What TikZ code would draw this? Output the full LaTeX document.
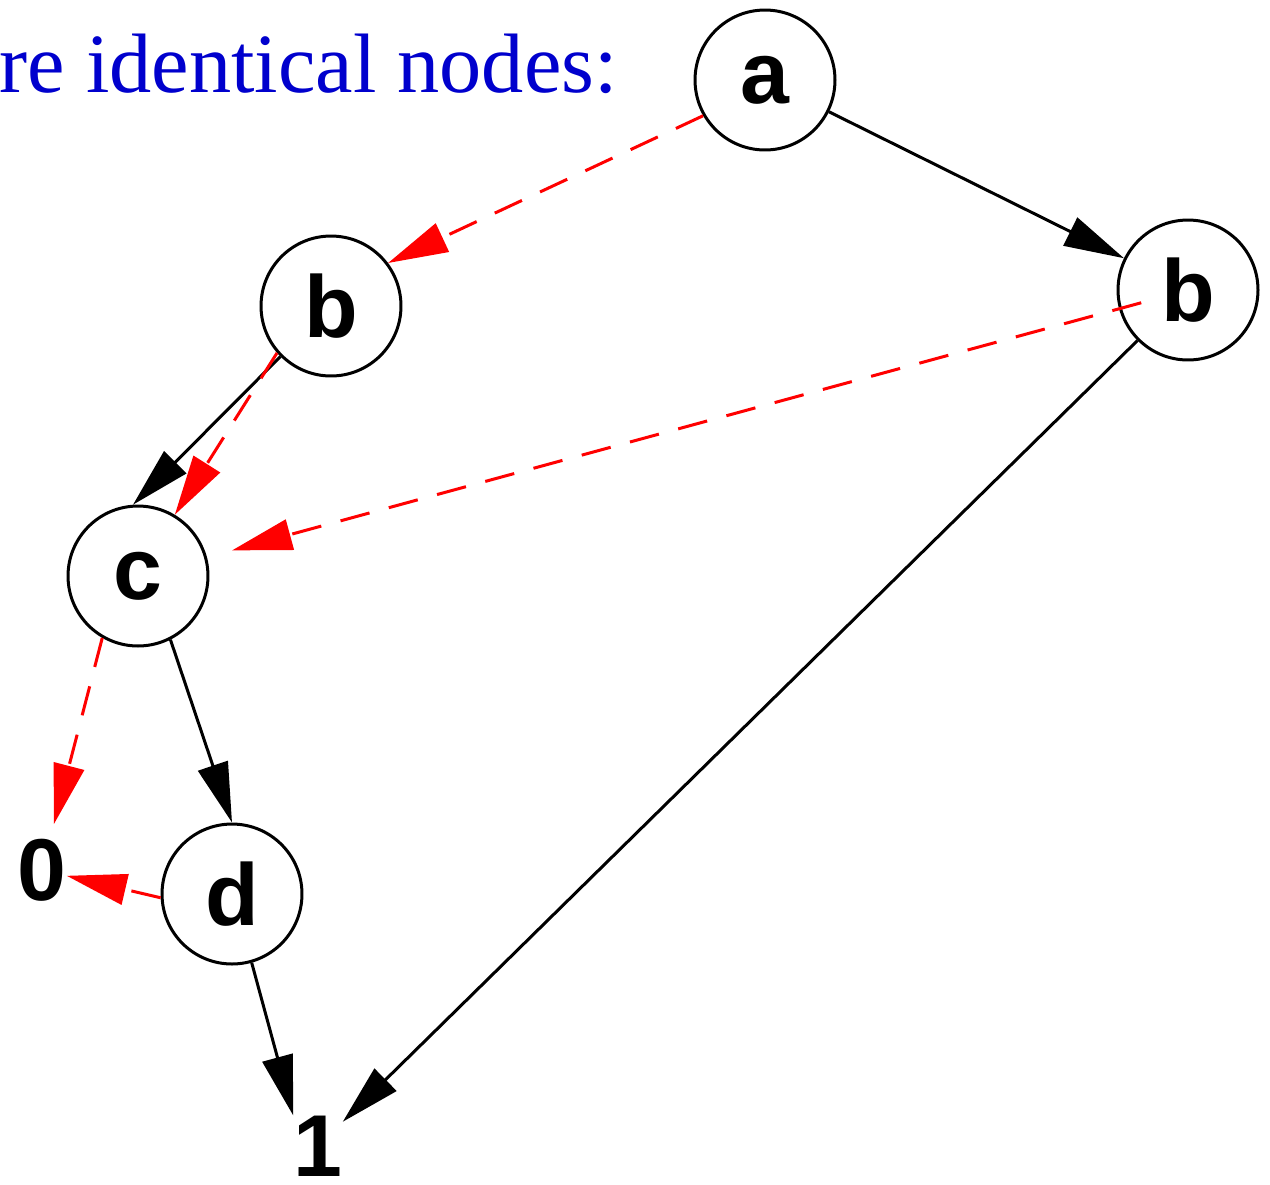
\documentclass[tikz,border=0pt]{standalone}
\usepackage{fontspec}
\setmainfont{Liberation Serif}
\setsansfont{Liberation Sans}
\usetikzlibrary{arrows.meta}
\definecolor{slideblue}{RGB}{0,0,205}

\begin{document}
\begin{tikzpicture}[x=0.02cm, y=-0.02cm, >={Triangle[length=1.2cm,width=0.62cm]},
 vert/.style={draw, circle, line width=0.06cm, minimum size=2.8cm, inner sep=0pt, font=\fontsize{50}{60}\sffamily\bfseries},
 term/.style={inner sep=0pt, font=\fontsize{50}{60}\sffamily\bfseries},
 hi/.style={->, line width=0.06cm},
 lo/.style={->, red, line width=0.06cm, dash pattern=on 0.6cm off 0.4cm}]
\useasboundingbox (0,0) rectangle (1270,1184);
\node[anchor=base east, inner sep=0pt, text=slideblue, font=\fontsize{48}{58}\selectfont] (title) at (618,92) {are identical nodes:};
\node[vert] (a) at (765,80) {a};
\node[vert] (bl) at (331,306) {b};
\node[vert] (br) at (1188,290) {b};
\node[vert] (c) at (138,576) {c};
\node[vert] (d) at (232,894) {d};
\node[term] (zero) at (42,870) {0};
\node[term] (one) at (318,1146) {1};
\draw[hi] (a) -- (br);
\draw[lo] (a.210) -- (bl.37);
\draw[hi] (bl.225) -- (c.94);
\draw[lo] (bl.221) -- (c.59);
\draw[lo, shorten <=-0.46cm, shorten >=0.52cm] (br) -- (c);
\draw[hi] (br.225) -- (one);
\draw[lo, shorten >=0.3cm] (c.240) -- (zero);
\draw[hi] (c.297) -- (d.north);
\draw[lo] (d.183) -- (zero);
\draw[hi] (d.286) -- (one.north west);
\end{tikzpicture}
\end{document}
